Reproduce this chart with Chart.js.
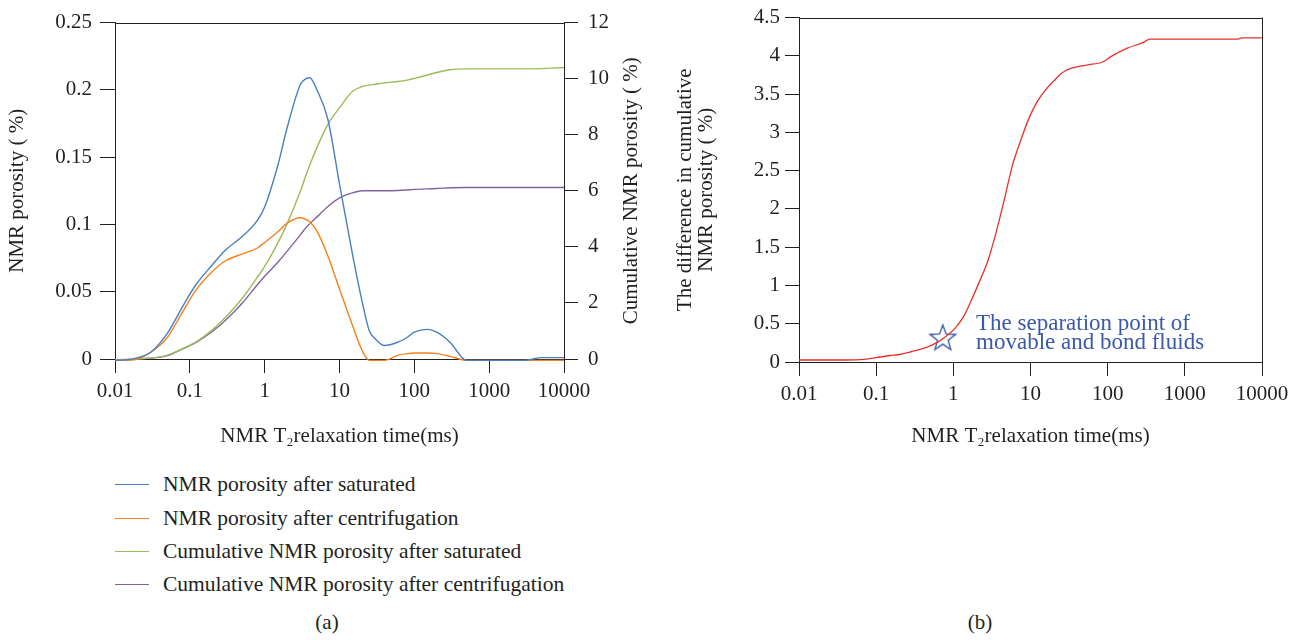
<!DOCTYPE html>
<html>
<head>
<meta charset="utf-8">
<script src="https://cdn.jsdelivr.net/npm/chart.js@4.4.1/dist/chart.umd.min.js"></script>
<style>
  html, body { margin: 0; padding: 0; background: #fff; }
  body { width: 1302px; height: 640px; position: relative; overflow: hidden;
         font-family: 'Liberation Serif', 'DejaVu Serif', serif; color: #231f20; }
  .box { position: absolute; top: 0; height: 460px; }
  #boxA { left: 0; width: 660px; }
  #boxB { left: 660px; width: 642px; }
  #legend { position: absolute; left: 115px; top: 468px; font-size: 21.5px; }
  .row { height: 33.4px; display: flex; align-items: center; }
  .swatch { width: 34px; height: 0; border-top: 1.5px solid; margin-right: 14px; }
  .tag { position: absolute; top: 610px; font-size: 21px; transform: translateX(-50%); }
</style>
</head>
<body>
<div class="box" id="boxA"><canvas id="chartA"></canvas></div>
<div class="box" id="boxB"><canvas id="chartB"></canvas></div>
<div id="legend"></div>
<div class="tag" style="left:327px">(a)</div>
<div class="tag" style="left:980px">(b)</div>
<script>
// T2 relaxation time (ms), shared by the four curves of panel (a)
const t2 = [0.01, 0.015, 0.02, 0.03, 0.05, 0.08, 0.12, 0.2, 0.3, 0.5, 0.8, 1, 1.5, 2, 3, 3.5, 4, 5, 7, 10,
            15, 20, 25, 30, 40, 60, 80, 100, 150, 200, 300, 500, 1000, 3000, 5000, 10000];
const poroSaturated = [-0.001, -0.0005, 0.001, 0.005, 0.019, 0.039, 0.055, 0.070, 0.081, 0.091, 0.103, 0.113, 0.144, 0.172, 0.204, 0.208, 0.209, 0.200, 0.178, 0.13,
            0.077, 0.043, 0.021, 0.015, 0.010, 0.0125, 0.016, 0.020, 0.022, 0.020, 0.0125, -0.001, -0.001, -0.001, 0.001, 0.001];
const poroCentrifuged = [-0.001, -0.0008, 0.0, 0.005, 0.016, 0.035, 0.051, 0.065, 0.073, 0.078, 0.0825, 0.0866, 0.0945, 0.101, 0.105, 0.104, 0.102, 0.095, 0.0765, 0.052,
            0.0246, 0.0065, -0.001, -0.001, -0.001, 0.0027, 0.004, 0.0045, 0.0045, 0.004, 0.002, -0.001, -0.001, -0.001, -0.001, -0.001];
const cumSaturated = [-0.03, -0.02, 0.01, 0.03, 0.14, 0.37, 0.6, 1.04, 1.49, 2.16, 2.92, 3.3, 4.14, 4.83, 5.98, 6.5, 6.91, 7.55, 8.37, 8.96,
            9.55, 9.72, 9.77, 9.8, 9.85, 9.9, 9.95, 10.01, 10.13, 10.22, 10.32, 10.35, 10.35, 10.35, 10.36, 10.4];
const cumCentrifuged = [-0.03, -0.02, 0, 0.03, 0.12, 0.36, 0.58, 0.98, 1.38, 1.99, 2.65, 2.95, 3.45, 3.85, 4.43, 4.66, 4.82, 5.07, 5.44, 5.75,
            5.93, 6.0, 6.0, 6.0, 6.0, 6.01, 6.03, 6.05, 6.07, 6.08, 6.11, 6.12, 6.12, 6.12, 6.12, 6.12];

// panel (b)
const t2Diff = [0.01, 0.04, 0.07, 0.1, 0.15, 0.2, 0.3, 0.45, 0.65, 0.8, 1.05, 1.35, 1.7, 2.2, 2.8, 3.6, 4.6, 5.8, 7.5, 9.5,
            12, 15.5, 20, 25, 32, 53, 86, 110, 180, 295, 350, 4900, 5500, 10000];
const cumDiff = [0.026, 0.026, 0.034, 0.056, 0.085, 0.098, 0.141, 0.19, 0.27, 0.333, 0.44, 0.59, 0.80, 1.06, 1.32, 1.70, 2.13, 2.56, 2.90, 3.18,
            3.39, 3.55, 3.67, 3.77, 3.83, 3.88, 3.92, 3.99, 4.10, 4.18, 4.22, 4.22, 4.235, 4.235];
const separationPoint = { x: 0.73, y: 0.32 };
const noteLines = ['The separation point of', 'movable and bond fluids'];
const noteAt = { x: 1.97, y: [0.5, 0.245] };

const xTicks = [0.01, 0.1, 1, 10, 100, 1000, 10000];
const yTicksPoro = [0, 0.05, 0.1, 0.15, 0.2, 0.25];
const yTicksCum = [0, 2, 4, 6, 8, 10, 12];
const yTicksDiff = [0, 0.5, 1, 1.5, 2, 2.5, 3, 3.5, 4, 4.5];

const seriesNames = ['NMR porosity after saturated', 'NMR porosity after centrifugation',
                     'Cumulative NMR porosity after saturated', 'Cumulative NMR porosity after centrifugation'];
const seriesColors = ['#4a7fc1', '#f5801e', '#9bbb59', '#8064a2'];

const ink = '#231f20';
Chart.defaults.font.family = "'Liberation Serif', 'DejaVu Serif', serif";
Chart.defaults.font.size = 21;
Chart.defaults.color = ink;

const pts = (xs, ys) => xs.map((x, i) => ({ x: x, y: ys[i] }));
const fixedTicks = list => scale => { scale.ticks = list.map(v => ({ value: v })); };

function logX(height) {
    return {
        type: 'logarithmic', min: 0.01, max: 10000,
        afterBuildTicks: fixedTicks(xTicks),
        afterFit: s => { s.height = height; },
        ticks: { callback: v => String(v), padding: 6, maxRotation: 0, autoSkip: false },
        grid: { drawOnChartArea: false, tickLength: 14, color: ink },
        border: { color: ink },
        title: { display: true, text: 'NMR T\u2082relaxation time(ms)', padding: { top: 0, bottom: 11 } }
    };
}

// top / right frame lines and extra text
const framePlugin = {
    id: 'frame',
    afterDraw(chart, args, opts) {
        const { ctx, chartArea: a } = chart;
        ctx.save();
        ctx.strokeStyle = ink;
        ctx.lineWidth = 1;
        ctx.beginPath();
        ctx.moveTo(a.left, Math.round(a.top) + 0.5);
        ctx.lineTo(a.right, Math.round(a.top) + 0.5);
        if (opts.right) {
            ctx.moveTo(Math.round(a.right) + 0.5, a.top);
            ctx.lineTo(Math.round(a.right) + 0.5, a.bottom);
        }
        ctx.stroke();
        if (opts.rightTitle) {
            ctx.translate(opts.rightTitleX, (a.top + a.bottom) / 2);
            ctx.rotate(-Math.PI / 2);
            ctx.fillStyle = ink;
            ctx.font = "21px 'Liberation Serif', 'DejaVu Serif', serif";
            ctx.textAlign = 'center';
            ctx.textBaseline = 'middle';
            ctx.fillText(opts.rightTitle, 0, 0);
        }
        ctx.restore();
    }
};

const datasetsA = [poroSaturated, poroCentrifuged, cumSaturated, cumCentrifuged].map((vals, i) => ({
    label: seriesNames[i],
    data: pts(t2, vals),
    yAxisID: i < 2 ? 'y' : 'y1',
    borderColor: seriesColors[i],
    borderWidth: 1.4,
    pointRadius: 0,
    cubicInterpolationMode: 'monotone',
    clip: false
}));

new Chart(document.getElementById('chartA'), {
    type: 'line',
    data: { datasets: datasetsA },
    plugins: [framePlugin],
    options: {
        responsive: true, maintainAspectRatio: false, animation: false,
        layout: { padding: { top: 13, left: 0, right: 0, bottom: 0 } },
        plugins: {
            legend: { display: false }, tooltip: { enabled: false },
            frame: { rightTitle: 'Cumulative NMR porosity ( %)', rightTitleX: 631 }
        },
        scales: {
            x: logX(101),
            y: {
                position: 'left', min: 0, max: 0.25,
                afterBuildTicks: fixedTicks(yTicksPoro),
                afterFit: s => { s.width = 115; },
                ticks: { callback: v => String(v), padding: 8 },
                grid: { drawOnChartArea: false, tickLength: 15, color: ink },
                border: { color: ink },
                title: { display: true, text: 'NMR porosity ( %)', padding: { top: 5, bottom: 0 } }
            },
            y1: {
                position: 'right', min: 0, max: 12,
                afterBuildTicks: fixedTicks(yTicksCum),
                afterFit: s => { s.width = 96; },
                ticks: { callback: v => String(v), padding: 10 },
                grid: { drawOnChartArea: false, tickLength: 14, color: ink },
                border: { color: ink }
            }
        }
    }
});

// outlined five-point star used as the marker of the separation point
const star = document.createElement('canvas');
star.width = 30; star.height = 30;
(function () {
    const c = star.getContext('2d');
    c.strokeStyle = '#2f50a3';
    c.lineWidth = 1.3;
    c.beginPath();
    for (let k = 0; k < 10; k++) {
        const r = k % 2 ? 5.6 : 13.5;
        const ang = -Math.PI / 2 + k * Math.PI / 5;
        const px = 15 + r * Math.cos(ang), py = 16 + r * Math.sin(ang);
        k ? c.lineTo(px, py) : c.moveTo(px, py);
    }
    c.closePath();
    c.stroke();
})();

const notePlugin = {
    id: 'note',
    afterDatasetsDraw(chart) {
        const { ctx, scales: { x, y } } = chart;
        ctx.save();
        ctx.fillStyle = '#3a59a8';
        ctx.font = "23px 'Liberation Serif', 'DejaVu Serif', serif";
        ctx.textAlign = 'left';
        ctx.textBaseline = 'middle';
        noteLines.forEach((line, i) => {
            ctx.fillText(line, x.getPixelForValue(noteAt.x), y.getPixelForValue(noteAt.y[i]));
        });
        ctx.restore();
    }
};

new Chart(document.getElementById('chartB'), {
    type: 'line',
    data: {
        datasets: [
            {
                data: pts(t2Diff, cumDiff),
                borderColor: '#e8302a',
                borderWidth: 1.3,
                pointRadius: 0,
                cubicInterpolationMode: 'monotone'
            },
            {
                data: [separationPoint],
                showLine: false,
                pointStyle: star,
                pointRadius: 14
            }
        ]
    },
    plugins: [framePlugin, notePlugin],
    options: {
        responsive: true, maintainAspectRatio: false, animation: false,
        layout: { padding: { top: 13, left: 0, right: 40, bottom: 0 } },
        plugins: { legend: { display: false }, tooltip: { enabled: false }, frame: { right: true } },
        scales: {
            x: logX(98),
            y: {
                min: 0, max: 4.5,
                afterBuildTicks: fixedTicks(yTicksDiff),
                afterFit: s => { s.width = 139; },
                ticks: { callback: v => String(v), padding: 5 },
                grid: { drawOnChartArea: false, tickLength: 14, color: ink },
                border: { color: ink },
                title: {
                    display: true,
                    text: ['The difference in cumulative', 'NMR porosity ( %)'],
                    font: { lineHeight: 1.0 },
                    padding: { top: 15, bottom: 0 }
                }
            }
        }
    }
});

// legend for panel (a)
const legend = document.getElementById('legend');
seriesNames.forEach((name, i) => {
    const row = document.createElement('div');
    row.className = 'row';
    row.innerHTML = '<span class="swatch" style="border-color:' + seriesColors[i] + '"></span><span>' + name + '</span>';
    legend.appendChild(row);
});
</script>
</body>
</html>
